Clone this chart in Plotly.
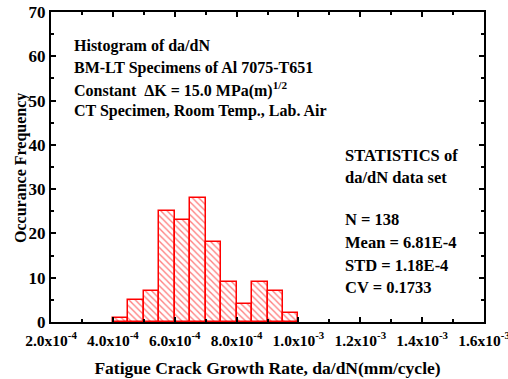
import plotly.graph_objects as go

# Data
bin_starts = [4.0e-4, 4.5e-4, 5.0e-4, 5.5e-4, 6.0e-4, 6.5e-4, 7.0e-4, 7.5e-4, 8.0e-4, 8.5e-4, 9.0e-4, 9.5e-4]
bin_width = 0.5e-4
counts = [1, 5, 7, 25, 23, 28, 18, 9, 4, 9, 7, 2]

x_tick_vals = [2e-4, 4e-4, 6e-4, 8e-4, 1.0e-3, 1.2e-3, 1.4e-3, 1.6e-3]
x_tick_text = ["2.0x10<sup>-4</sup>", "4.0x10<sup>-4</sup>", "6.0x10<sup>-4</sup>", "8.0x10<sup>-4</sup>",
               "1.0x10<sup>-3</sup>", "1.2x10<sup>-3</sup>", "1.4x10<sup>-3</sup>", "1.6x10<sup>-3</sup>"]
y_tick_vals = [0, 10, 20, 30, 40, 50, 60, 70]

info_lines = ["Histogram of da/dN",
              "BM-LT Specimens of Al 7075-T651",
              "Constant  \u0394K = 15.0 MPa(m)<sup>1/2</sup>",
              "CT Specimen, Room Temp., Lab. Air"]
stats_lines = ["STATISTICS of", "da/dN data set", "", "N = 138", "Mean = 6.81E-4", "STD = 1.18E-4", "CV = 0.1733"]

FONT = "Liberation Serif"

# layout geometry (pixels)
W, H = 508, 379
ML, MR, MT, MB = 51, 24, 12, 57
PW, PH = W - ML - MR, H - MT - MB


def px_to_paper(xp, yp):
    return (xp - ML) / PW, (H - MB - yp) / PH


centers = [s + bin_width / 2 for s in bin_starts]

fig = go.Figure()
fig.add_trace(go.Bar(
    x=centers, y=counts, width=[bin_width] * len(counts),
    marker=dict(color="white",
                line=dict(color="red", width=1.5),
                pattern=dict(shape="\\", fgcolor="red", bgcolor="white", size=4.5, solidity=0.3)),
    showlegend=False,
))

axis_common = dict(showline=True, linecolor="black", linewidth=2, mirror="allticks",
                   ticks="inside", tickcolor="black", tickwidth=1.5, ticklen=5,
                   showgrid=False, zeroline=False, automargin=False,
                   ticklabeloverflow="allow")

fig.update_xaxes(range=[2e-4, 1.6e-3], tickvals=x_tick_vals,
                 ticktext=["<b>" + t + "</b>" for t in x_tick_text],
                 minor=dict(ticks="inside", dtick=1e-4, tick0=0, ticklen=3, tickcolor="black", tickwidth=1.5),
                 tickfont=dict(family=FONT, size=15.5, color="black"),
                 ticklabelstandoff=3,
                 title=dict(text="<b>Fatigue Crack Growth Rate, da/dN(mm/cycle)</b>",
                            font=dict(family=FONT, size=17.5, color="black"), standoff=14),
                 **axis_common)
fig.update_yaxes(range=[0, 70], tickvals=y_tick_vals,
                 ticktext=["<b>%d</b>" % v for v in y_tick_vals],
                 minor=dict(ticks="inside", dtick=5, ticklen=3, tickcolor="black", tickwidth=1.5),
                 tickfont=dict(family=FONT, size=17, color="black"),
                 **axis_common)

fig.update_layout(
    width=W, height=H,
    margin=dict(l=ML, r=MR, t=MT, b=MB),
    paper_bgcolor="white", plot_bgcolor="white",
    font=dict(family=FONT, color="black"),
    bargap=0,
)

# y-axis title
tx, ty = px_to_paper(21, 168)
fig.add_annotation(xref="paper", yref="paper", x=tx, y=ty, xanchor="center", yanchor="middle",
                   textangle=-90, showarrow=False, text="<b>Occurance Frequency</b>",
                   font=dict(family=FONT, size=16, color="black"))

info_y = [46, 68, 89.5, 111]
for line, yp in zip(info_lines, info_y):
    ax, ay = px_to_paper(72, yp)
    fig.add_annotation(xref="paper", yref="paper", x=ax, y=ay, xanchor="left", yanchor="middle",
                       align="left", showarrow=False, text="<b>" + line + "</b>",
                       font=dict(family=FONT, size=16, color="black"))

stats_y = [155, 178, 199, 220, 242, 265, 287]
for line, yp in zip(stats_lines, stats_y):
    if not line:
        continue
    ax, ay = px_to_paper(343, yp)
    fig.add_annotation(xref="paper", yref="paper", x=ax, y=ay, xanchor="left", yanchor="middle",
                       align="left", showarrow=False, text="<b>" + line + "</b>",
                       font=dict(family=FONT, size=16.5, color="black"))

fig.write_html("out.html")
